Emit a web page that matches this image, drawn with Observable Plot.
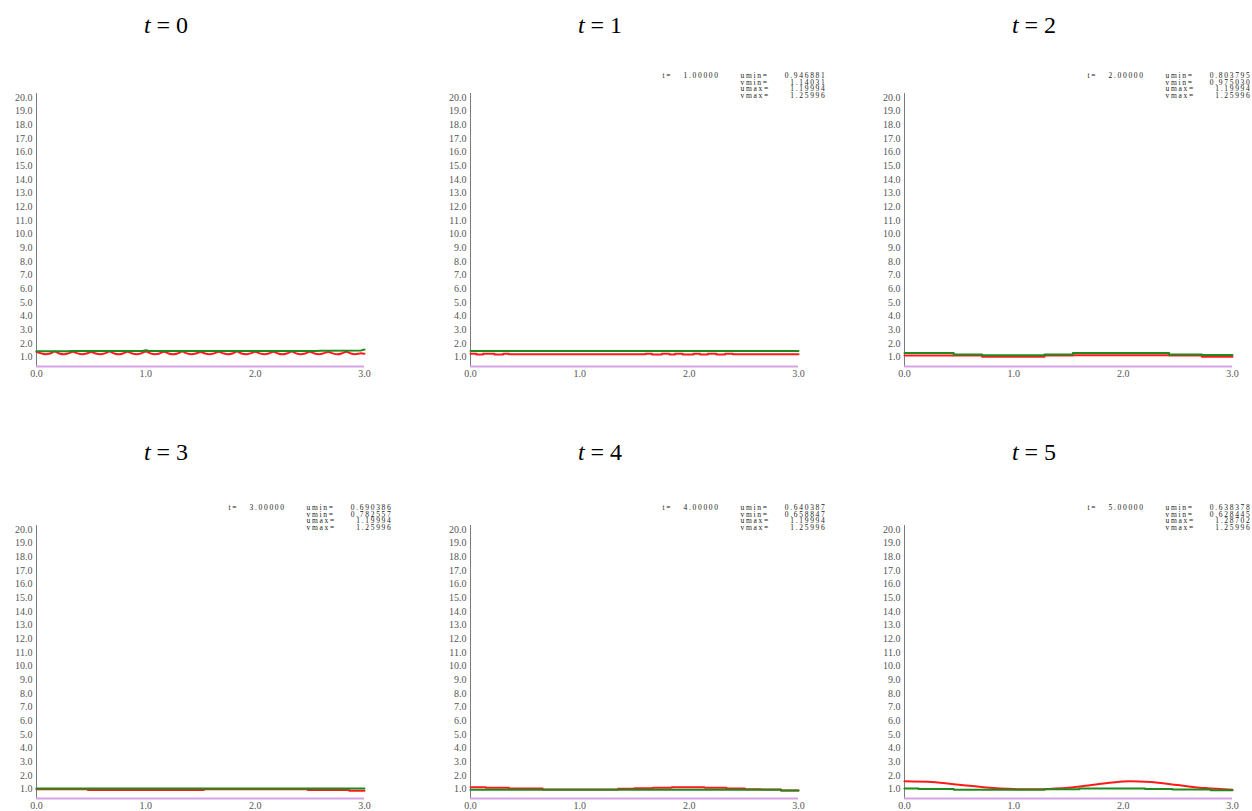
<!DOCTYPE html>
<html><head><meta charset="utf-8">
<script src="https://cdn.jsdelivr.net/npm/d3@7"></script>
<script src="https://cdn.jsdelivr.net/npm/@observablehq/plot@0.6"></script>
<style>
html,body{margin:0;padding:0;background:#fff;width:1252px;height:811px;overflow:hidden;}
.panel{position:absolute;width:434px;height:315px;}
.panel svg{max-width:none !important;}
.title{position:absolute;width:200px;text-align:center;font-family:"Liberation Serif",serif;font-size:24px;color:#000;line-height:30px;}
</style></head><body>
<script>
// ---------- data ----------
const times = [0, 1, 2, 3, 4, 5];
const xTicks = [0, 1, 2, 3];
const yTicks = [1,2,3,4,5,6,7,8,9,10,11,12,13,14,15,16,17,18,19,20];
const yDomain = [0.32, 20.3];

// t = 0 : sampling grid of the curve (every 1/24)
const uT0x = d3.range(73).map(i => i / 24);
const uT0y = [
1.40,1.28,1.22,1.27, 1.41,1.27,1.21,1.28, 1.40,1.28,1.22,1.27,
1.39,1.27,1.22,1.28, 1.41,1.28,1.21,1.27, 1.40,1.27,1.22,1.28,
1.42,1.28,1.22,1.27, 1.40,1.27,1.21,1.28, 1.41,1.28,1.22,1.27,
1.39,1.27,1.22,1.28, 1.40,1.28,1.21,1.27, 1.41,1.27,1.22,1.28,
1.40,1.28,1.22,1.27, 1.40,1.27,1.21,1.28, 1.41,1.28,1.22,1.27,
1.40,1.27,1.22,1.28, 1.39,1.28,1.21,1.27, 1.40,1.27,1.22,1.28,
1.26];
const vT0x = [0, 0.30, 0.31, 0.97, 1.00, 1.03, 2.55, 2.60, 2.97, 3.00];
const vT0y = [1.43, 1.43, 1.46, 1.46, 1.52, 1.46, 1.46, 1.48, 1.50, 1.56];

// t = 1
const uT1x = [0,0.055,0.115,0.22,0.30,0.35,1.60,1.66,1.75,1.82,1.87,1.94,2.04,2.10,2.17,2.25,2.33,2.40,3.0];
const uT1y = [1.26,1.19,1.26,1.19,1.26,1.22,1.26,1.19,1.26,1.19,1.26,1.19,1.26,1.19,1.26,1.19,1.26,1.21,1.21];
const vT1x = [0, 3.0];
const vT1y = [1.45, 1.45];

// t = 2
const uT2x = [0, 0.71, 1.28, 1.54, 2.42, 2.72, 3.0];
const uT2y = [1.13, 1.03, 1.13, 1.15, 1.13, 1.04, 1.04];
const vT2x = [0, 0.45, 0.71, 1.28, 1.54, 2.42, 2.72, 3.0];
const vT2y = [1.30, 1.20, 1.15, 1.20, 1.30, 1.20, 1.17, 1.17];

// t = 3
const uT3x = [0, 0.47, 1.53, 2.48, 2.86, 3.0];
const uT3y = [1.00, 0.95, 1.00, 0.95, 0.88, 0.88];
const vT3x = [0, 3.0];
const vT3y = [1.05, 1.06];

// t = 4
const uT4x = [0,0.14,0.35,0.66,1.35,1.50,1.67,1.84,2.14,2.34,2.51,2.66,2.84,3.0];
const uT4y = [1.15,1.10,1.05,0.98,1.03,1.07,1.10,1.15,1.10,1.05,1.00,0.97,0.90,0.90];
const vT4x = [0, 2.84, 3.0];
const vT4y = [0.96, 0.90, 0.90];

// t = 5
const uT5x = [0,0.25,0.5,0.75,1.0,1.25,1.5,1.75,2.0,2.25,2.5,2.75,3.0];
const uT5y = [1.58,1.52,1.33,1.12,1.01,1.00,1.10,1.35,1.57,1.52,1.30,1.08,0.96];
const vT5x = [0,0.13,0.45,1.28,1.6,2.2,2.45,2.8,3.0];
const vT5y = [1.05,1.02,0.96,0.99,1.05,1.02,0.97,0.93,0.93];

// info box (t = 1..5)
const boxT    = ["1.00000","2.00000","3.00000","4.00000","5.00000"];
const boxUmin = ["0.946881","0.803795","0.690386","0.640387","0.638378"];
const boxVmin = ["1.14031","0.975030","0.782557","0.658847","0.628445"];
const boxUmax = ["1.19994","1.19994","1.19994","1.19994","1.28702"];
const boxVmax = ["1.25996","1.25996","1.25996","1.25996","1.25996"];
const boxLabels = ["umin=","vmin=","umax=","vmax="];

// ---------- build ----------
const uSeries = [
  {x:uT0x,y:uT0y,curve:"catmull-rom"},{x:uT1x,y:uT1y,curve:"step-after"},
  {x:uT2x,y:uT2y,curve:"step-after"},{x:uT3x,y:uT3y,curve:"step-after"},
  {x:uT4x,y:uT4y,curve:"step-after"},{x:uT5x,y:uT5y,curve:"catmull-rom"}];
const vSeries = [
  {x:vT0x,y:vT0y,curve:"linear"},{x:vT1x,y:vT1y,curve:"linear"},
  {x:vT2x,y:vT2y,curve:"step-after"},{x:vT3x,y:vT3y,curve:"linear"},
  {x:vT4x,y:vT4y,curve:"step-after"},{x:vT5x,y:vT5y,curve:"step-after"}];

const lefts = [0, 434, 868];
const tops = [70, 502];
const titleTops = [10, 437];
const toRows = s => s.x.map((x, j) => ({x, y: s.y[j]}));
const f1 = d3.format(".1f");

times.forEach((t, i) => {
  const col = i % 3, row = Math.floor(i / 3);
  const u = uSeries[i], v = vSeries[i];
  const marks = [
    Plot.axisY(yTicks, {tickSize: 0, tickPadding: 4, tickFormat: f1, label: null}),
    Plot.axisX(xTicks, {tickSize: 0, tickPadding: 3, tickFormat: f1, label: null}),
    Plot.ruleX([0], {stroke: "#7a7a7a", strokeWidth: 1}),
    Plot.ruleY([yDomain[0]], {stroke: "#d7a3e3", strokeWidth: 2}),
    Plot.line(toRows(u), {x: "x", y: "y", stroke: "#ff1a1a", strokeWidth: 2, curve: u.curve}),
    Plot.line(toRows(v), {x: "x", y: "y", stroke: "#1f8a1f", strokeWidth: 2, curve: v.curve})
  ];
  if (i > 0) {
    const k = i - 1;
    const edge = col === 2 ? -9 : 0; // keep the box inside the window on the right column
    const common = {frameAnchor: "top-left", lineAnchor: "top", dy: -20, fontSize: 7.5, lineHeight: 0.88, fill: "#1a1a1a", text: d => d};
    marks.push(
      Plot.text(["t="], {...common, dx: 192 + edge, textAnchor: "start"}),
      Plot.text([boxT[k]], {...common, dx: 213 + edge, textAnchor: "start"}),
      Plot.text([boxLabels.join("\n")], {...common, dx: 270 + edge, textAnchor: "start"}),
      Plot.text([[boxUmin[k], boxVmin[k], boxUmax[k], boxVmax[k]].join("\n")], {...common, dx: 356 + edge, textAnchor: "end"})
    );
  }
  const svg = Plot.plot({
    width: 434, height: 315,
    marginLeft: 36, marginRight: 70, marginTop: 23, marginBottom: 19,
    x: {domain: [0, 3], label: null},
    y: {domain: yDomain, label: null},
    style: {fontFamily: "'Liberation Serif', serif", fontSize: "10px", color: "#555", background: "transparent", overflow: "visible", maxWidth: "none"},
    marks
  });
  svg.querySelectorAll('g[font-size="7.5"]').forEach(g => g.style.letterSpacing = "1.7px");
  const div = document.createElement("div");
  div.className = "panel";
  div.style.left = lefts[col] + "px";
  div.style.top = tops[row] + "px";
  div.appendChild(svg);
  document.body.appendChild(div);

  const title = document.createElement("div");
  title.className = "title";
  title.style.left = (lefts[col] + 166 - 100) + "px";
  title.style.top = titleTops[row] + "px";
  title.innerHTML = "<i>t</i> = " + t;
  document.body.appendChild(title);
});
</script>
</body></html>
